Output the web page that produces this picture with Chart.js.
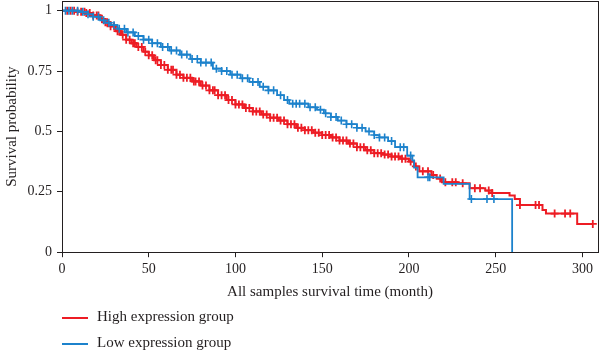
<!DOCTYPE html>
<html>
<head>
<meta charset="utf-8">
<script src="https://cdn.jsdelivr.net/npm/chart.js@4.4.1/dist/chart.umd.min.js"></script>
<style>
  body { margin: 0; background: #fff; }
  #wrap { position: relative; width: 600px; height: 353px; }
  .leg { position: absolute; left: 62px; font: 15px "Liberation Serif", "DejaVu Serif", serif; color: #231f20; }
  .leg span.ln { display: inline-block; width: 26px; height: 2px; vertical-align: middle; margin-right: 9px; }
</style>
</head>
<body>
<div id="wrap">
  <canvas id="km" width="600" height="353"></canvas>
  <div class="leg" style="top:308px"><span class="ln" style="background:#ed1c24"></span>High expression group</div>
  <div class="leg" style="top:334px"><span class="ln" style="background:#1c82cc"></span>Low expression group</div>
</div>
<script>
// --- DATOS ---
const highTime = [0, 8, 14, 18, 22, 25, 28, 31, 34, 37, 40, 43, 47, 50, 53, 57, 61, 66, 70, 75, 80, 85, 90, 95, 100, 105, 110, 115, 120, 125, 130, 135, 140, 145, 150, 155, 160, 165, 170, 175, 180, 185, 190, 195, 200, 203, 206, 213, 216, 219, 228, 235, 244, 248, 258, 261, 264, 277, 279, 297, 306];
const highSurv = [1, 0.995, 0.99, 0.98, 0.965, 0.952, 0.935, 0.915, 0.9, 0.88, 0.865, 0.85, 0.83, 0.815, 0.795, 0.775, 0.755, 0.735, 0.722, 0.707, 0.69, 0.67, 0.65, 0.63, 0.612, 0.597, 0.583, 0.57, 0.557, 0.545, 0.53, 0.515, 0.505, 0.495, 0.485, 0.475, 0.462, 0.45, 0.435, 0.422, 0.41, 0.404, 0.396, 0.387, 0.375, 0.355, 0.335, 0.32, 0.305, 0.29, 0.285, 0.265, 0.255, 0.245, 0.235, 0.22, 0.195, 0.175, 0.16, 0.117, 0.117];
const lowTime = [0, 10, 15, 18, 22, 25, 28, 32, 37, 42, 47, 52, 57, 62, 68, 74, 80, 87, 92, 97, 103, 108, 114, 119, 124, 128, 131, 142, 147, 151, 155, 159, 164, 170, 175, 180, 183, 188, 192, 199, 202, 203, 205, 220, 235, 259.5, 259.5];
const lowSurv = [1, 0.995, 0.985, 0.975, 0.96, 0.95, 0.94, 0.925, 0.91, 0.895, 0.88, 0.865, 0.85, 0.835, 0.818, 0.8, 0.785, 0.76, 0.75, 0.735, 0.72, 0.705, 0.685, 0.67, 0.65, 0.63, 0.615, 0.6, 0.59, 0.575, 0.56, 0.545, 0.53, 0.515, 0.5, 0.485, 0.475, 0.46, 0.435, 0.4, 0.38, 0.35, 0.31, 0.283, 0.22, 0.22, 0];
// censurados (+)
const highCens = [3, 5, 7, 9, 11, 13, 14, 16, 18, 20, 21, 23, 25, 26, 28, 30, 32, 33, 35, 37, 39, 41, 42, 44, 46, 48, 50, 52, 54, 55, 57, 59, 61, 63, 64, 66, 68, 70, 72, 74, 76, 77, 79, 81, 83, 85, 87, 88, 90, 92, 94, 96, 98, 100, 102, 104, 106, 108, 110, 112, 114, 116, 118, 120, 122, 124, 126, 128, 130, 132, 134, 136, 138, 140, 142, 144, 146, 148, 150, 152, 154, 156, 158, 160, 162, 164, 166, 168, 170, 172, 174, 176, 178, 180, 182, 184, 186, 188, 190, 192, 194, 196, 198, 201, 204, 208, 211, 214, 218, 221, 225, 227, 231, 238, 241, 246, 248, 264, 273, 275, 284, 290, 293, 306];
const lowCens = [2, 4, 6, 9, 12, 15, 18, 21, 24, 27, 30, 33, 36, 38, 41, 44, 47, 50, 52, 55, 58, 61, 63, 66, 69, 72, 75, 78, 80, 83, 86, 89, 92, 95, 98, 101, 104, 107, 110, 113, 116, 119, 122, 126, 130, 133, 135, 137, 140, 143, 146, 149, 152, 155, 158, 161, 164, 167, 170, 173, 177, 180, 183, 186, 190, 195, 197, 201, 211, 212, 236, 245, 249];
const xTicks = [0, 50, 100, 150, 200, 250, 300];
const yTicks = [0, 0.25, 0.5, 0.75, 1];

const RED = '#ed1c24';
const BLUE = '#1c82cc';
const INK = '#231f20';

function survAt(times, surv, t) {
    let v = surv[0];
    for (let i = 0; i < times.length; i++) {
        if (times[i] <= t) v = surv[i]; else break;
    }
    return v;
}
const toPts = (tt, ss) => tt.map((t, i) => ({ x: t, y: ss[i] }));
const censPts = (cc, tt, ss) => cc.map(t => ({ x: t, y: survAt(tt, ss, t) }));

const frame = {
    id: 'frame',
    afterDraw(chart) {
        const a = chart.chartArea, ctx = chart.ctx;
        ctx.save();
        ctx.strokeStyle = INK;
        ctx.lineWidth = 1;
        ctx.strokeRect(Math.round(a.left) + 0.5, Math.round(a.top) + 0.5, Math.round(a.right - a.left), Math.round(a.bottom - a.top));
        ctx.restore();
    }
};

Chart.defaults.font.family = '"Liberation Serif", "DejaVu Serif", serif';
Chart.defaults.font.size = 14;
Chart.defaults.color = INK;

new Chart(document.getElementById('km'), {
    type: 'scatter',
    data: {
        datasets: [
            { data: toPts(highTime, highSurv), showLine: true, stepped: 'before', borderColor: RED, borderWidth: 2, pointRadius: 0, order: 4 },
            { data: censPts(highCens, highTime, highSurv), pointStyle: 'cross', pointRadius: 4, borderColor: RED, borderWidth: 1.8, order: 3 },
            { data: toPts(lowTime, lowSurv), showLine: true, stepped: 'before', borderColor: BLUE, borderWidth: 1.8, pointRadius: 0, order: 2 },
            { data: censPts(lowCens, lowTime, lowSurv), pointStyle: 'cross', pointRadius: 4, borderColor: BLUE, borderWidth: 1.6, order: 1 }
        ]
    },
    options: {
        responsive: false,
        animation: false,
        layout: { autoPadding: false, padding: { top: 1, right: 2, left: 0, bottom: 52 } },
        plugins: { legend: { display: false }, tooltip: { enabled: false } },
        scales: {
            x: {
                type: 'linear', min: 0, max: 309,
                afterBuildTicks: s => { s.ticks = xTicks.map(v => ({ value: v })); },
                afterFit: s => { s.paddingLeft = 0; s.paddingRight = 0; },
                ticks: { padding: 4, maxRotation: 0, callback: v => String(v) },
                grid: { drawOnChartArea: false, tickLength: 5, color: INK },
                border: { color: INK },
                title: { display: true, text: 'All samples survival time (month)', font: { size: 15 }, padding: { top: 1, bottom: 0 } }
            },
            y: {
                type: 'linear', min: 0, max: 1.04,
                afterBuildTicks: s => { s.ticks = yTicks.map(v => ({ value: v })); },
                afterFit: s => { s.width = 62; s.paddingTop = 0; s.paddingBottom = 0; },
                ticks: { padding: 5, callback: v => String(v) },
                grid: { drawOnChartArea: false, tickLength: 5, color: INK },
                border: { color: INK },
                title: { display: true, text: 'Survival probability', font: { size: 15 }, padding: { top: 3, bottom: 0 } }
            }
        }
    },
    plugins: [frame]
});
</script>
</body>
</html>
